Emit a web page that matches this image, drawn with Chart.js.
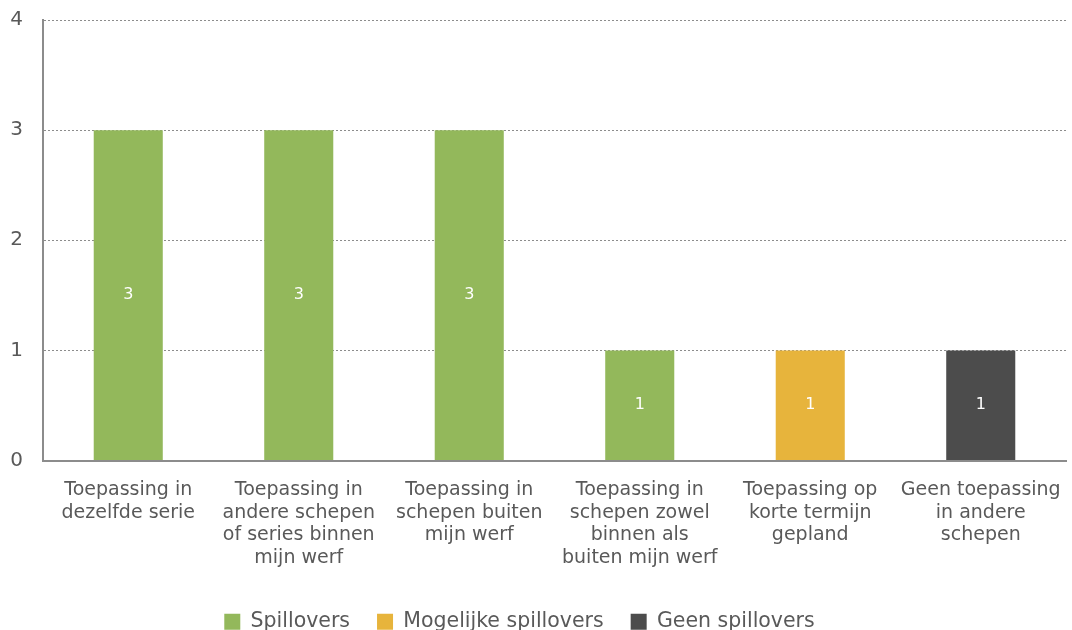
<!DOCTYPE html>
<html>
<head>
<meta charset="utf-8">
<script src="https://cdn.jsdelivr.net/npm/chart.js@4"></script>
<style>
  html, body { margin: 0; padding: 0; background: #fff; }
  #wrap { width: 1072px; height: 630px; }
</style>
</head>
<body>
<div id="wrap"><canvas id="chart"></canvas></div>
<script>
const categories = [
    ["Toepassing in", "dezelfde serie"],
    ["Toepassing in", "andere schepen", "of series binnen", "mijn werf"],
    ["Toepassing in", "schepen buiten", "mijn werf"],
    ["Toepassing in", "schepen zowel", "binnen als", "buiten mijn werf"],
    ["Toepassing op", "korte termijn", "gepland"],
    ["Geen toepassing", "in andere", "schepen"]
];
const spillovers = [3, 3, 3, 1, null, null];
const mogelijkeSpillovers = [null, null, null, null, 1, null];
const geenSpillovers = [null, null, null, null, null, 1];
const yTicks = [0, 1, 2, 3, 4];

const textColor = "#595959";
const fontFamily = "'DejaVu Sans', Verdana, sans-serif";

// white value labels in the middle of each bar
const barLabels = {
    id: "barLabels",
    afterDatasetsDraw(chart) {
        const ctx = chart.ctx;
        ctx.save();
        ctx.fillStyle = "#ffffff";
        ctx.font = "16px " + fontFamily;
        ctx.textAlign = "center";
        ctx.textBaseline = "middle";
        chart.data.datasets.forEach((ds, i) => {
            const meta = chart.getDatasetMeta(i);
            meta.data.forEach((bar, j) => {
                const v = ds.data[j];
                if (v === null || v === undefined) return;
                ctx.fillText(String(v), bar.x, (bar.y + bar.base) / 2);
            });
        });
        ctx.restore();
    }
};

// legend in the reference sits a bit left of centre
const legendShift = {
    id: "legendShift",
    afterLayout(chart) {
        chart.legend.left -= 18;
        chart.legend.right -= 18;
    }
};

new Chart(document.getElementById("chart"), {
    type: "bar",
    data: {
        labels: categories,
        datasets: [
            { label: "Spillovers", data: spillovers, backgroundColor: "#93b85b" },
            { label: "Mogelijke spillovers", data: mogelijkeSpillovers, backgroundColor: "#e7b43c" },
            { label: "Geen spillovers", data: geenSpillovers, backgroundColor: "#4c4c4c" }
        ]
    },
    options: {
        responsive: true,
        maintainAspectRatio: false,
        animation: false,
        datasets: {
            bar: { barPercentage: 0.405, categoryPercentage: 1 }
        },
        layout: { padding: { left: 9, right: 6, top: 20, bottom: -12 } },
        scales: {
            x: {
                stacked: true,
                grid: { display: false },
                border: { display: true, color: "#8c8c8c", width: 2 },
                ticks: {
                    color: textColor,
                    font: { family: fontFamily, size: 19, lineHeight: 1.2 },
                    maxRotation: 0,
                    autoSkip: false,
                    padding: 10
                },
                afterFit: (axis) => {
                    axis.paddingLeft = 0;
                    axis.paddingRight = 0;
                    axis.height = 124;
                }
            },
            y: {
                stacked: true,
                min: 0,
                max: 4,
                afterBuildTicks: (axis) => {
                    axis.ticks = yTicks.map(v => ({ value: v }));
                },
                afterFit: (axis) => {
                    axis.width = 34;
                    axis.paddingTop = 0;
                    axis.paddingBottom = 0;
                },
                grid: {
                    color: "#8c8c8c",
                    lineWidth: 1,
                    drawTicks: false
                },
                border: { display: true, color: "#8c8c8c", width: 2, dash: [2, 2] },
                ticks: {
                    color: textColor,
                    font: { family: fontFamily, size: 20 },
                    padding: 20
                }
            }
        },
        plugins: {
            legend: {
                position: "bottom",
                labels: {
                    color: textColor,
                    font: { family: fontFamily, size: 20.5 },
                    boxWidth: 16,
                    boxHeight: 16,
                    padding: 27
                }
            },
            tooltip: { enabled: false }
        }
    },
    plugins: [barLabels, legendShift]
});
</script>
</body>
</html>
